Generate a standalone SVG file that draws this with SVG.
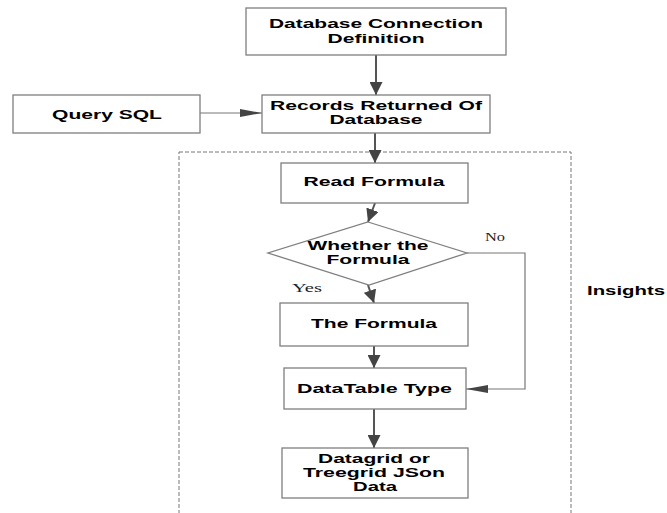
<svg xmlns="http://www.w3.org/2000/svg" width="667" height="513" viewBox="0 0 667 513">
<style>
.box{fill:#fff;stroke:#7f7f7f;stroke-width:1.3}
.t{font-family:"Liberation Sans",Arial,sans-serif;font-weight:bold;font-size:13px;fill:#000;text-anchor:middle}
.m{font-size:12.3px}
.s{font-family:"Liberation Serif","Times New Roman",serif;font-size:13px;fill:#222;text-anchor:middle}
.c{fill:none;stroke:#555;stroke-width:2}
.c2{fill:none;stroke:#777;stroke-width:1.2}
</style>
<defs>
<marker id="big" viewBox="0 0 13 13" refX="13" refY="6.5" markerWidth="13" markerHeight="13" markerUnits="userSpaceOnUse" orient="auto"><path d="M0,0L13,6.5L0,13z" fill="#444"/></marker>
<marker id="thin" viewBox="0 0 22 8" refX="22" refY="4" markerWidth="22" markerHeight="8" markerUnits="userSpaceOnUse" orient="auto"><path d="M0,0L22,4L0,8z" fill="#444"/></marker>
</defs>
<rect x="179" y="152" width="392" height="380" fill="none" stroke="#777" stroke-width="1" stroke-dasharray="4 2"/>
<text class="t" x="626" y="295" textLength="78" lengthAdjust="spacingAndGlyphs">Insights</text>
<g id="connectors">
<line class="c" x1="376" y1="55" x2="376" y2="95" marker-end="url(#big)"/>
<line class="c2" x1="200" y1="113" x2="262" y2="113" marker-end="url(#thin)"/>
<line class="c" x1="375" y1="133" x2="375" y2="163" marker-end="url(#big)"/>
<line class="c" x1="375" y1="203" x2="368" y2="222" marker-end="url(#big)"/>
<line class="c" x1="368" y1="285" x2="374" y2="303" marker-end="url(#big)"/>
<line class="c" x1="374" y1="346" x2="374" y2="368" marker-end="url(#big)"/>
<line class="c" x1="374" y1="409" x2="374" y2="448" marker-end="url(#big)"/>
<polyline class="c2" points="467,253 525,253 525,389 466,389" marker-end="url(#thin)"/>
<text class="s" x="495" y="241" textLength="20" lengthAdjust="spacingAndGlyphs">No</text>
<text class="s" x="307" y="292" textLength="30" lengthAdjust="spacingAndGlyphs">Yes</text>
</g>
<g id="n1">
<rect class="box" x="246" y="8" width="260" height="47"/>
<text class="t" x="376" y="28" textLength="214" lengthAdjust="spacingAndGlyphs">Database Connection</text>
<text class="t" x="376" y="43" textLength="97" lengthAdjust="spacingAndGlyphs">Definition</text>
</g>
<g id="n2">
<rect class="box" x="13" y="95" width="187" height="38"/>
<text class="t" x="107" y="119" textLength="110" lengthAdjust="spacingAndGlyphs">Query SQL</text>
</g>
<g id="n3">
<rect class="box" x="262" y="95" width="228" height="38"/>
<text class="t" x="376" y="110" textLength="212" lengthAdjust="spacingAndGlyphs">Records Returned Of</text>
<text class="t" x="376" y="124" textLength="93" lengthAdjust="spacingAndGlyphs">Database</text>
</g>
<g id="n4">
<rect class="box" x="281" y="163" width="187" height="40"/>
<text class="t" x="374" y="186" textLength="141" lengthAdjust="spacingAndGlyphs">Read Formula</text>
</g>
<g id="n5">
<polygon class="box" points="368,222 467,253 369,285 268,253"/>
<text class="t" x="368" y="250" textLength="121" lengthAdjust="spacingAndGlyphs">Whether the</text>
<text class="t" x="368" y="264" textLength="83" lengthAdjust="spacingAndGlyphs">Formula</text>
</g>
<g id="n6">
<rect class="box" x="280" y="303" width="188" height="43"/>
<text class="t" x="374" y="328" textLength="126" lengthAdjust="spacingAndGlyphs">The Formula</text>
</g>
<g id="n7">
<rect class="box" x="284" y="368" width="182" height="41"/>
<text class="t" x="374.5" y="393" textLength="155" lengthAdjust="spacingAndGlyphs">DataTable Type</text>
</g>
<g id="n8">
<rect class="box" x="282" y="448" width="186" height="50"/>
<text class="t m" x="374" y="463" textLength="112" lengthAdjust="spacingAndGlyphs">Datagrid or</text>
<text class="t m" x="374" y="477" textLength="142" lengthAdjust="spacingAndGlyphs">Treegrid JSon</text>
<text class="t m" x="375" y="491" textLength="44" lengthAdjust="spacingAndGlyphs">Data</text>
</g>
</svg>
